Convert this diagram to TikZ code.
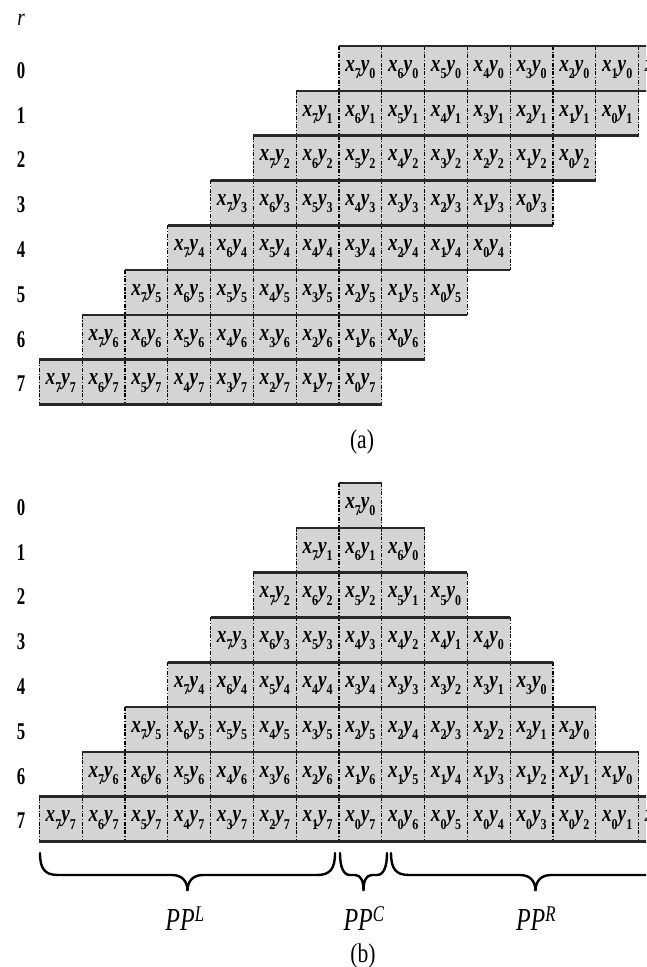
\documentclass[tikz,border=0pt]{standalone}
\usepackage{fontspec}
\setmainfont{Liberation Serif}
\usepackage{graphicx}
\definecolor{cellgray}{RGB}{212,212,212}
\definecolor{rulegray}{RGB}{40,40,40}
\newcommand{\cxy}[2]{\scalebox{0.8}[1]{\fontsize{24}{24}\selectfont\bfseries\itshape x\raisebox{-0.3em}{\fontsize{15}{15}\selectfont\upshape #1}y\raisebox{-0.3em}{\fontsize{15}{15}\selectfont\upshape #2}}}
\newcommand{\rlab}[1]{\scalebox{0.7}[1]{\fontsize{24}{24}\selectfont\bfseries #1}}
\newcommand{\pplab}[1]{\scalebox{0.75}[1]{\fontsize{32}{32}\selectfont\itshape PP\textsuperscript{#1}}}
\tikzset{
  cellfill/.style={fill=cellgray, draw=none},
  celledge/.style={line width=1.1pt, dash pattern=on 4pt off 1.6pt on 1.2pt off 1.6pt},
  rowrule/.style={line width=2.6pt, draw=rulegray},
  celltext/.style={inner sep=0pt, anchor=center},
  rowlabel/.style={inner sep=0pt, anchor=center},
  bracepath/.style={line width=2.4pt, line cap=round},
  caplabel/.style={inner sep=0pt, anchor=center}
}
\newcommand{\caplab}[1]{\scalebox{0.8}[1]{\fontsize{27}{27}\selectfont #1}}
\begin{document}
\begin{tikzpicture}[x=1pt,y=-1pt]
\useasboundingbox (0,0) rectangle (646,967);
\clip (0,0) rectangle (646,967);
\def\W{42.8}
\def\H{44.8}
% ---------------- part (a) ----------------
\node[rowlabel] (rhead) at (21,20) {\scalebox{0.8}[1]{\fontsize{24}{24}\selectfont\itshape r}};
\foreach \r in {0,...,7} {
  \fill[cellgray] ({339-\r*\W},{46+\r*\H}) rectangle ({339-\r*\W+8*\W},{46+(\r+1)*\H});
}
\foreach \r in {0,...,7} {
  \foreach \k in {0,...,8} {
    \draw[celledge] ({339-\r*\W+\k*\W},{46+\r*\H}) -- ({339-\r*\W+\k*\W},{46+(\r+1)*\H});
  }
  \draw[rowrule] ({339-\r*\W},{46+\r*\H}) -- ({339-\r*\W+8*\W},{46+\r*\H});
  \draw[rowrule] ({339-\r*\W},{46+(\r+1)*\H}) -- ({339-\r*\W+8*\W},{46+(\r+1)*\H});
  \foreach \k in {0,...,7} {
    \pgfmathtruncatemacro\xi{7-\k}
    \node[celltext] (a\r-\k) at ({339-\r*\W+(\k+0.5)*\W},{46+(\r+0.5)*\H+1}) {\cxy{\xi}{\r}};
  }
  \node[rowlabel] (la\r) at (21,{46+(\r+0.5)*\H+2}) {\rlab{\r}};
}
\node[caplabel] (capa) at (362,442) {\caplab{(a)}};
% ---------------- part (b) ----------------
\foreach \r in {0,...,7} {
  \fill[cellgray] ({339-\r*\W},{483+\r*\H}) rectangle ({339+(\r+1)*\W},{483+(\r+1)*\H});
}
\foreach \r in {0,...,7} {
  \pgfmathtruncatemacro\n{2*\r+1}
  \foreach \k in {0,...,\n} {
    \draw[celledge] ({339-\r*\W+\k*\W},{483+\r*\H}) -- ({339-\r*\W+\k*\W},{483+(\r+1)*\H});
  }
  \draw[rowrule] ({339-\r*\W},{483+\r*\H}) -- ({339+(\r+1)*\W},{483+\r*\H});
  \draw[rowrule] ({339-\r*\W},{483+(\r+1)*\H}) -- ({339+(\r+1)*\W},{483+(\r+1)*\H});
  \pgfmathtruncatemacro\m{2*\r}
  \foreach \k in {0,...,\m} {
    \pgfmathtruncatemacro\xi{\k<=\r ? 7-\k : 7-\r}
    \pgfmathtruncatemacro\yi{\k<=\r ? \r : 2*\r-\k}
    \node[celltext] (b\r-\k) at ({339-\r*\W+(\k+0.5)*\W},{483+(\r+0.5)*\H+1}) {\cxy{\xi}{\yi}};
  }
  \node[rowlabel] (lb\r) at (21,{483+(\r+0.5)*\H+2}) {\rlab{\r}};
}
% braces
\draw[bracepath] (40,853) .. controls (40,869) and (45,875) .. (58,875) -- (172,875) .. controls (182,875) and (187.5,881) .. (187.5,891) .. controls (187.5,881) and (193,875) .. (203,875) -- (317,875) .. controls (330,875) and (335,869) .. (335,853);
\draw[bracepath] (340,853) .. controls (340,866) and (343,875) .. (350,875) -- (355,875) .. controls (361,875) and (363.5,881) .. (363.5,891) .. controls (363.5,881) and (366,875) .. (372,875) -- (377,875) .. controls (384,875) and (387,866) .. (387,853);
\draw[bracepath] (391,853) .. controls (391,869) and (396,875) .. (409,875) -- (520,875) .. controls (530,875) and (535.5,881) .. (535.5,891) .. controls (535.5,881) and (541,875) .. (551,875) -- (662,875) .. controls (675,875) and (680,869) .. (680,853);
\node[rowlabel] (ppl) at (185,919) {\pplab{L}};
\node[rowlabel] (ppc) at (364,919) {\pplab{C}};
\node[rowlabel] (ppr) at (536,919) {\pplab{R}};
\node[caplabel] (capb) at (363,956) {\caplab{(b)}};
\end{tikzpicture}
\end{document}
